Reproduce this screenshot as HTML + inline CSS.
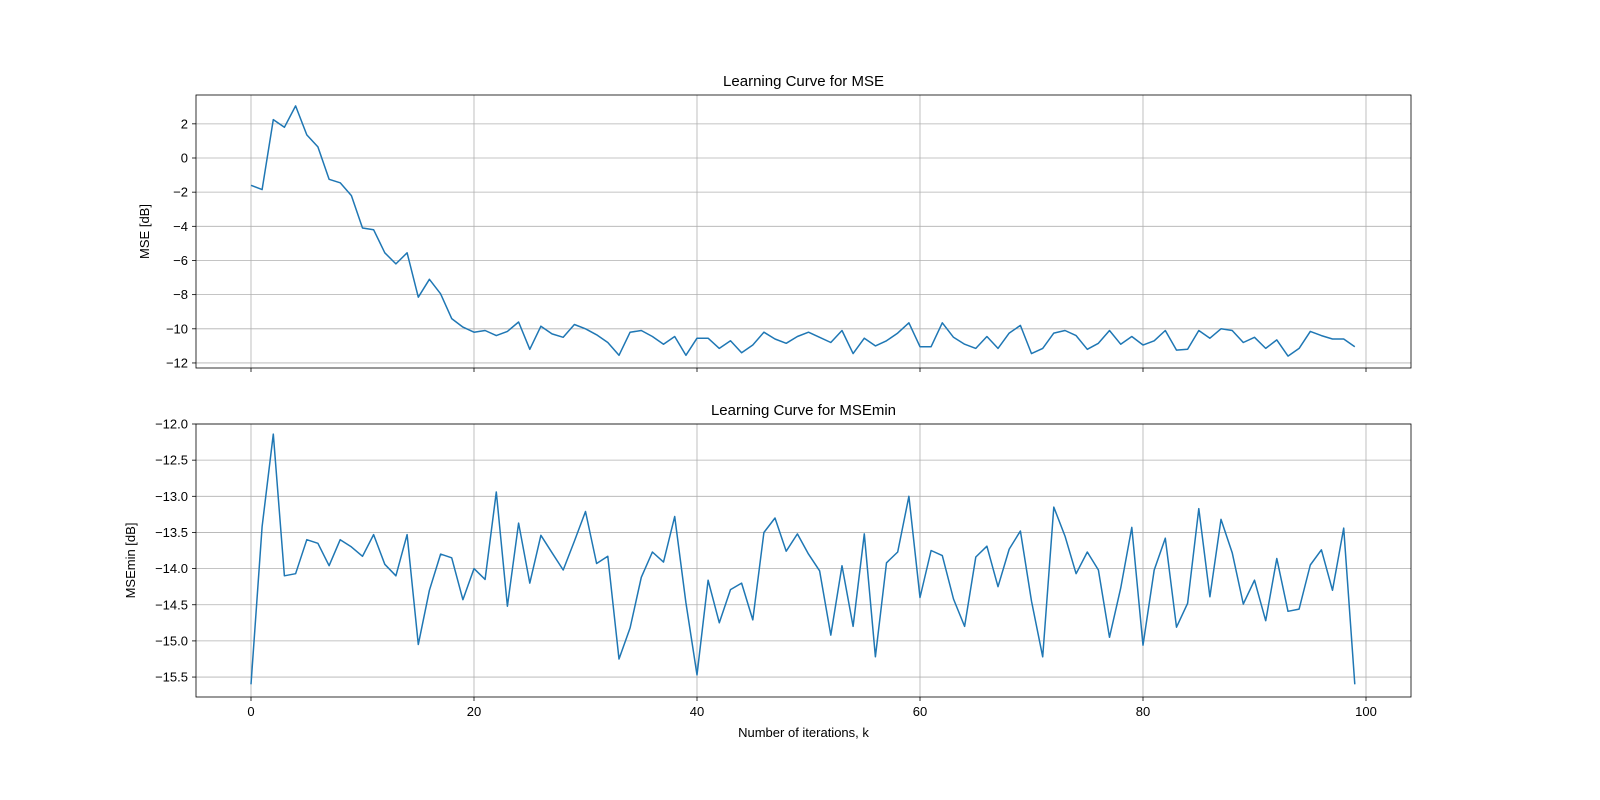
<!DOCTYPE html>
<html><head><meta charset="utf-8"><style>
body{margin:0;background:#fff}
svg{display:block;font-family:"Liberation Sans","DejaVu Sans",sans-serif}
</style></head><body>
<svg id="chart" width="1600" height="800" xmlns="http://www.w3.org/2000/svg"></svg>
<script>
const iterations = Array.from({length:100},(_,i)=>i);
const mseValues = [-1.6,-1.85,2.25,1.8,3.05,1.35,0.65,-1.25,-1.45,-2.2,-4.1,-4.2,-5.55,-6.2,-5.55,-8.15,-7.1,-7.95,-9.4,-9.9,
-10.2,-10.1,-10.4,-10.15,-9.6,-11.2,-9.85,-10.3,-10.5,-9.75,-10.0,-10.35,-10.8,-11.55,-10.2,-10.1,-10.45,-10.9,-10.45,-11.55,
-10.55,-10.55,-11.15,-10.7,-11.4,-10.95,-10.2,-10.6,-10.85,-10.45,-10.2,-10.5,-10.8,-10.1,-11.45,-10.55,-11.0,-10.7,-10.25,-9.65,
-11.05,-11.05,-9.65,-10.5,-10.9,-11.15,-10.45,-11.15,-10.25,-9.8,-11.45,-11.15,-10.25,-10.1,-10.4,-11.2,-10.85,-10.1,-10.9,-10.45,
-10.95,-10.7,-10.1,-11.25,-11.2,-10.1,-10.55,-10.0,-10.1,-10.8,-10.5,-11.15,-10.65,-11.6,-11.15,-10.15,-10.4,-10.6,-10.6,-11.05];
const mseMinValues = [-15.6,-13.42,-12.14,-14.1,-14.07,-13.6,-13.65,-13.96,-13.6,-13.7,-13.83,-13.53,-13.94,-14.1,-13.53,-15.05,-14.3,-13.8,-13.85,-14.43,
-14.0,-14.15,-12.94,-14.52,-13.37,-14.2,-13.54,-13.78,-14.02,-13.62,-13.21,-13.93,-13.83,-15.25,-14.82,-14.12,-13.77,-13.91,-13.28,-14.47,
-15.47,-14.16,-14.75,-14.29,-14.2,-14.71,-13.5,-13.3,-13.76,-13.52,-13.8,-14.03,-14.92,-13.96,-14.8,-13.52,-15.22,-13.92,-13.77,-13.0,
-14.4,-13.75,-13.82,-14.42,-14.8,-13.84,-13.69,-14.25,-13.73,-13.48,-14.45,-15.22,-13.15,-13.55,-14.07,-13.77,-14.02,-14.95,-14.27,-13.43,
-15.06,-14.02,-13.58,-14.81,-14.48,-13.17,-14.39,-13.32,-13.78,-14.49,-14.16,-14.72,-13.86,-14.59,-14.56,-13.95,-13.74,-14.3,-13.44,-15.6];
const xTicks = [0,20,40,60,80,100];
const mseTicks = [2,0,-2,-4,-6,-8,-10,-12];
const mseMinTicks = [-12.0,-12.5,-13.0,-13.5,-14.0,-14.5,-15.0,-15.5];

const svg=document.getElementById('chart');
const NS='http://www.w3.org/2000/svg';
function mk(tag,attrs,parent){const e=document.createElementNS(NS,tag);for(const k in attrs)e.setAttribute(k,attrs[k]);(parent||svg).appendChild(e);return e;}
const X0=196,X1=1411;
const xs=v=>251+(v-0)*(1366-251)/100;

function panel(top,bottom,yScale,yTicks,vals,title,ylabel,fmt,showXLabels,prefix){
  const g=mk('g',{});
  
  
  yTicks.forEach(t=>{
    const y=yScale(t);
    const gl=mk('line',{x1:X0,x2:X1,y1:y,y2:y,stroke:'#b0b0b0','stroke-width':0.8},g);
    
    
    mk('line',{x1:X0-4,x2:X0,y1:y,y2:y,stroke:'#000','stroke-width':0.8},g);
    const tx=mk('text',{x:X0-8,y:y+4.5,'text-anchor':'end','font-size':13},g);
    tx.textContent=fmt(t);
    
    
  });
  xTicks.forEach(t=>{
    const x=xs(t);
    const gl=mk('line',{x1:x,x2:x,y1:top,y2:bottom,stroke:'#b0b0b0','stroke-width':0.8},g);
    
    
    mk('line',{x1:x,x2:x,y1:bottom,y2:bottom+4,stroke:'#000','stroke-width':0.8},g);
    if(showXLabels){
      const tx=mk('text',{x:x,y:bottom+19,'text-anchor':'middle','font-size':13},g);
      tx.textContent=t;
      
      
    }
  });
  const d=vals.map((v,i)=>(i?'L':'M')+xs(iterations[i]).toFixed(1)+','+yScale(v).toFixed(1)).join('');
  const p=mk('path',{d:d,fill:'none',stroke:'#1f77b4','stroke-width':1.5,'stroke-linejoin':'round'},g);
  
  
  const fr=mk('rect',{x:X0,y:top,width:X1-X0,height:bottom-top,fill:'none',stroke:'#000','stroke-width':0.8},g);
  
  
  const tt=mk('text',{x:(X0+X1)/2,y:top-9,'text-anchor':'middle','font-size':15},g);
  tt.textContent=title;
  
  
  const cy=(top+bottom)/2;
  const yl=mk('text',{x:0,y:0,'text-anchor':'middle','font-size':13,transform:`translate(149,${cy}) rotate(-90)`},g);
  if(prefix==='msemin') yl.setAttribute('transform',`translate(135,${cy}) rotate(-90)`);
  yl.textContent=ylabel;
  
  
}
const yTop=v=>158-17.08*v;
const yBot=v=>424+(-12-v)*72.3;
panel(95,368,yTop,mseTicks,mseValues,'Learning Curve for MSE','MSE [dB]',t=>String(t).replace('-','\u2212'),false,'mse');
panel(424,697,yBot,mseMinTicks,mseMinValues,'Learning Curve for MSEmin','MSEmin [dB]',t=>t.toFixed(1).replace('-','\u2212'),true,'msemin');
const xl=mk('text',{x:(X0+X1)/2,y:737,'text-anchor':'middle','font-size':13});
xl.textContent='Number of iterations, k';


</script>
</body></html>
